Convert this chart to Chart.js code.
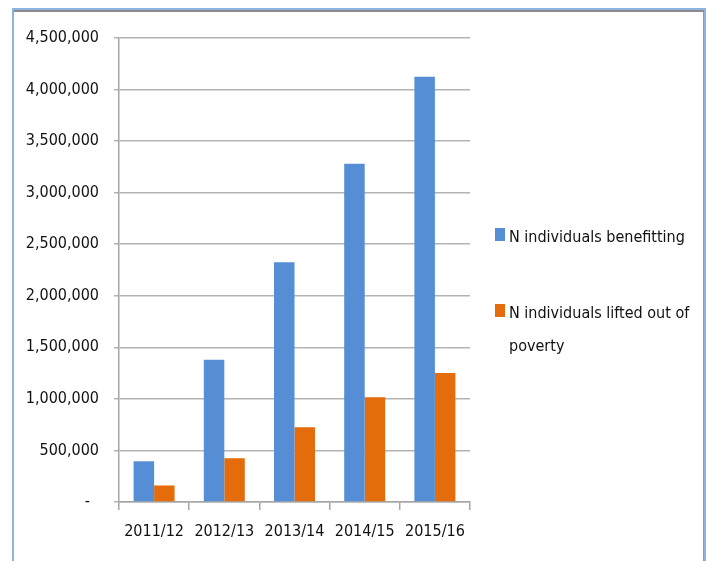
<!DOCTYPE html>
<html>
<head>
<meta charset="utf-8">
<script src="https://cdn.jsdelivr.net/npm/chart.js@4/dist/chart.umd.min.js"></script>
<style>
  html, body { margin: 0; padding: 0; background: #ffffff; }
  #wrap { position: relative; width: 713px; height: 561px; overflow: hidden; background: #fff; }
  #frame { position: absolute; left: 12px; top: 8px; width: 690px; height: 600px;
           border: 2px solid #8db3e2; box-shadow: inset 0 2px 0 #8c8c8c, inset -1px 0 0 #9a9a9a; }
  canvas { position: absolute; left: 0; top: 0; }
</style>
</head>
<body>
<div id="wrap">
  <div id="frame"></div>
  <canvas id="c" width="713" height="561"></canvas>
</div>
<script>
const categories = ['2011/12', '2012/13', '2013/14', '2014/15', '2015/16'];
const benefitting = [395000, 1380000, 2325000, 3280000, 4125000];
const liftedOut = [160000, 425000, 725000, 1015000, 1250000];
const seriesNames = ['N individuals benefitting', 'N individuals lifted out of poverty'];
const yTicks = [0, 500000, 1000000, 1500000, 2000000, 2500000, 3000000, 3500000, 4000000, 4500000];

const FONT = '"DejaVu Sans Condensed", "Liberation Sans Narrow", "Liberation Sans", sans-serif';

const legendPlugin = {
  id: 'sideLegend',
  afterDraw(chart) {
    const ctx = chart.ctx;
    ctx.save();
    ctx.font = '16px ' + FONT;
    ctx.textBaseline = 'alphabetic';
    ctx.textAlign = 'left';
    const x = 495, textX = 509, maxW = 192, lineH = 33;
    const baselines = [242, 318];
    chart.data.datasets.forEach((ds, i) => {
      const base = baselines[i];
      ctx.fillStyle = ds.backgroundColor;
      ctx.fillRect(x, base - 14, 10, 13);
      ctx.fillStyle = '#111111';
      const words = ds.label.split(' ');
      let line = '', y = base;
      words.forEach(w => {
        const test = line ? line + ' ' + w : w;
        if (ctx.measureText(test).width > maxW && line) {
          ctx.fillText(line, textX, y);
          line = w; y += lineH;
        } else line = test;
      });
      if (line) ctx.fillText(line, textX, y);
    });
    ctx.restore();
  }
};

new Chart(document.getElementById('c'), {
  type: 'bar',
  data: {
    labels: categories,
    datasets: [
      { label: seriesNames[0], data: benefitting, backgroundColor: '#558ed5' },
      { label: seriesNames[1], data: liftedOut, backgroundColor: '#e46c0a' }
    ]
  },
  options: {
    responsive: false,
    animation: false,
    devicePixelRatio: 1,
    layout: { padding: { top: 38, right: 243, left: 0, bottom: 0 } },
    plugins: { legend: { display: false }, tooltip: { enabled: false } },
    datasets: { bar: { categoryPercentage: 0.584, barPercentage: 1.0 } },
    scales: {
      x: {
        grid: { display: true, drawOnChartArea: false, drawTicks: true, tickLength: 8, color: '#a6a6a6', lineWidth: 1.5, offset: true },
        border: { display: true, color: '#a6a6a6', width: 1.5 },
        ticks: { color: '#111111', font: { family: FONT, size: 16 }, padding: 12, maxRotation: 0, autoSkip: false },
        afterFit(scale) { scale.height = 59; }
      },
      y: {
        min: 0, max: 4500000,
        afterBuildTicks(scale) { scale.ticks = yTicks.map(v => ({ value: v })); },
        grid: { color: '#b3b3b3', lineWidth: 1.5, drawTicks: true, tickLength: 5 },
        border: { display: true, color: '#a6a6a6', width: 1.5 },
        ticks: {
          color: '#111111', font: { family: FONT, size: 16 }, padding: 15,
          callback: v => v === 0 ? '-  ' : v.toLocaleString('en-US')
        },
        afterFit(scale) { scale.width = 119; }
      }
    }
  },
  plugins: [legendPlugin]
});
</script>
</body>
</html>
